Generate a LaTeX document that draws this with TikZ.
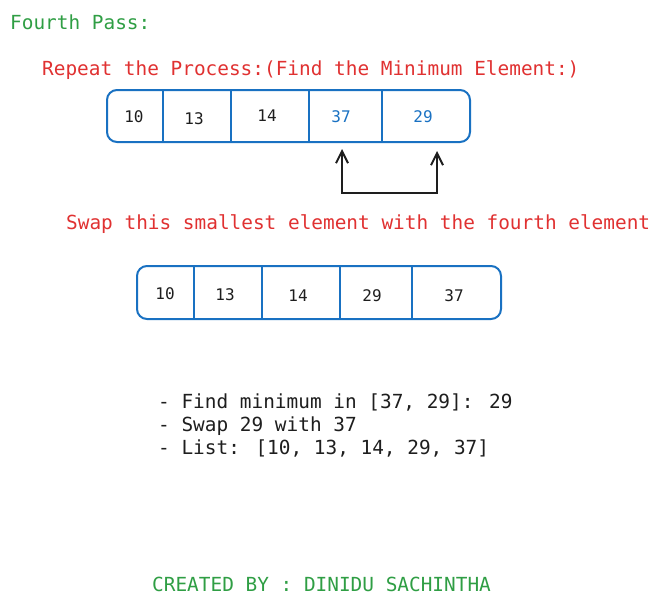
\documentclass[tikz,border=0pt]{standalone}
\usepackage{fontspec}
\setmainfont{DejaVu Sans Mono}
\usetikzlibrary{arrows.meta}
\definecolor{exgreen}{HTML}{2F9E44}
\definecolor{exred}{HTML}{E03131}
\definecolor{exblue}{HTML}{1971C2}
\definecolor{exblack}{HTML}{1E1E1E}
\begin{document}
\begin{tikzpicture}[x=1pt,y=-1pt,
  bigtext/.style={font=\fontsize{19.4}{23}\selectfont, inner sep=0pt, anchor=west, text height=14pt, text depth=4pt},
  numtext/.style={font=\fontsize{16}{19}\selectfont, inner sep=0pt, text=exblack},
  arraybox/.style={draw=exblue, line width=2pt, rounded corners=10pt, inner sep=0pt},
  divider/.style={draw=exblue, line width=2pt},
  swaparrow/.style={draw=exblack, line width=2pt, {Straight Barb[length=12pt,width=12pt]}-{Straight Barb[length=12pt,width=12pt]}}
]
\useasboundingbox (0,0) rectangle (662,606);
% titles
\node[bigtext, text=exgreen] (title) at (10,24) {Fourth Pass:};
\node[bigtext, text=exred] (repeat) at (42,70) {Repeat the Process:(Find the Minimum Element:)};
% first array
\node[arraybox, minimum width=363pt, minimum height=52pt] (arrA) at (288.5,116) {};
\foreach \x in {163,231,309,382} \draw[divider] (\x,90) -- (\x,142);
\node[numtext] (a1) at (134,117) {10};
\node[numtext] (a2) at (194,119) {13};
\node[numtext] (a3) at (267,116) {14};
\node[numtext, text=exblue] (a4) at (341,117) {37};
\node[numtext, text=exblue] (a5) at (423,117) {29};
% swap arrow
\coordinate (p1) at (342,149);
\coordinate (p2) at (437,151);
\draw[swaparrow] (p1) -- (342,193) -- (437,193) -- (p2);
\node[bigtext, text=exred] (swap) at (66,224) {Swap this smallest element with the fourth element};
% second array
\node[arraybox, minimum width=364pt, minimum height=53pt] (arrB) at (319,292.5) {};
\foreach \x in {194,262,340,412} \draw[divider] (\x,266) -- (\x,319);
\node[numtext] (b1) at (165,294) {10};
\node[numtext] (b2) at (225,295) {13};
\node[numtext] (b3) at (298,296) {14};
\node[numtext] (b4) at (372,296) {29};
\node[numtext] (b5) at (454,296) {37};
% steps
\node[bigtext, text=exblack] (s1) at (158,403) {- Find minimum in [37, 29]: 29};
\node[bigtext, text=exblack] (s2) at (158,426) {- Swap 29 with 37};
\node[bigtext, text=exblack] (s3) at (158,449) {- List: [10, 13, 14, 29, 37]};
\node[bigtext, text=exgreen] (credit) at (152,586) {CREATED BY : DINIDU SACHINTHA};
\end{tikzpicture}
\end{document}
